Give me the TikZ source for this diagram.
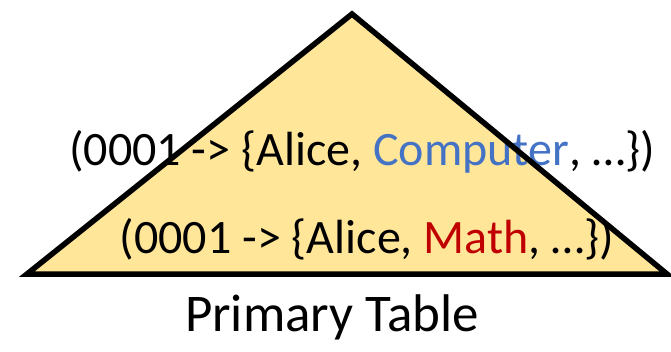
\documentclass[tikz,border=0pt]{standalone}
\usepackage{fontspec}
\setmainfont{Carlito}
\definecolor{tri}{HTML}{FFE699}
\definecolor{cblue}{HTML}{4472C4}
\definecolor{cred}{HTML}{C00000}
\begin{document}
\begin{tikzpicture}[x=1pt,y=1pt,
  lbl/.style={inner sep=0pt,anchor=base,font=\fontsize{48}{54}\selectfont},
  caplbl/.style={inner sep=0pt,anchor=base,font=\fontsize{53}{60}\selectfont},
  outline/.style={draw=black,line width=5.5pt,line join=miter}]
\useasboundingbox (0,0) rectangle (671,351);
\coordinate (apex) at (352,337);
\coordinate (bl) at (27,77);
\coordinate (br) at (667,77);
\fill[tri] (apex) -- (bl) -- (br) -- cycle;
\node[lbl] (t1) at (362,185) {(0001 -> \{Alice, \textcolor{cblue}{Computer}, …\})};
\node[lbl] (t2) at (367,98) {(0001 -> \{Alice, \textcolor{cred}{Math}, …\})};
\draw[outline] (apex) -- (bl) -- (br) -- cycle;
\node[caplbl] (cap) at (332,20) {Primary Table};
\end{tikzpicture}
\end{document}
